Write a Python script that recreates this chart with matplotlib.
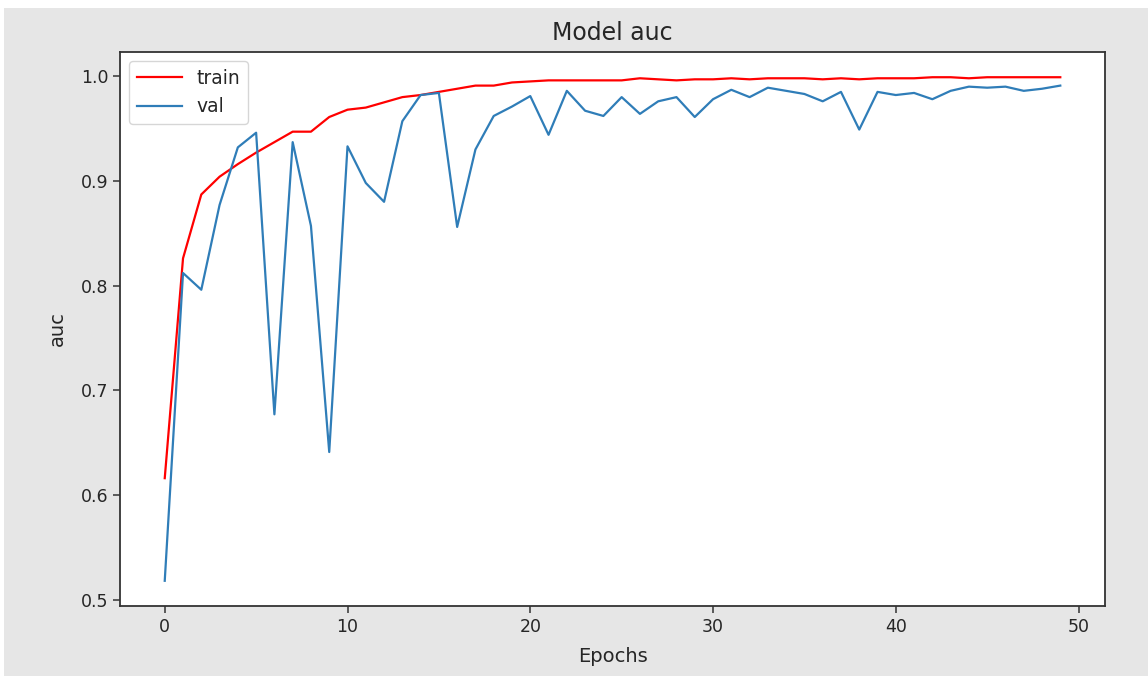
import matplotlib.pyplot as plt
from matplotlib.patches import Rectangle

# values
epochs = list(range(50))
train_auc = [0.616, 0.826, 0.887, 0.904, 0.916, 0.927, 0.937, 0.947, 0.947, 0.961,
             0.968, 0.970, 0.975, 0.980, 0.982, 0.985, 0.988, 0.991, 0.991, 0.994,
             0.995, 0.996, 0.996, 0.996, 0.996, 0.996, 0.998, 0.997, 0.996, 0.997,
             0.997, 0.998, 0.997, 0.998, 0.998, 0.998, 0.997, 0.998, 0.997, 0.998,
             0.998, 0.998, 0.999, 0.999, 0.998, 0.999, 0.999, 0.999, 0.999, 0.999]
val_auc = [0.518, 0.812, 0.796, 0.877, 0.932, 0.946, 0.677, 0.937, 0.857, 0.641,
           0.933, 0.898, 0.880, 0.957, 0.982, 0.984, 0.856, 0.930, 0.962, 0.971,
           0.981, 0.944, 0.986, 0.967, 0.962, 0.980, 0.964, 0.976, 0.980, 0.961,
           0.978, 0.987, 0.980, 0.989, 0.986, 0.983, 0.976, 0.985, 0.949, 0.985,
           0.982, 0.984, 0.978, 0.986, 0.990, 0.989, 0.990, 0.986, 0.988, 0.991]

BG = '#e6e6e6'
TXT = '#262626'

fig = plt.figure(figsize=(11.48, 6.76), dpi=100, facecolor=BG)
ax = fig.add_axes([0.1045, 0.1036, 0.8581, 0.8194])

# white frame strips at top and left of the screenshot
fig.add_artist(Rectangle((0, 1 - 8 / 676), 1, 8 / 676, transform=fig.transFigure,
                         facecolor='white', edgecolor='none', zorder=-1))
fig.add_artist(Rectangle((0, 0), 4 / 1148, 1, transform=fig.transFigure,
                         facecolor='white', edgecolor='none', zorder=-1))

ax.plot(epochs, train_auc, color='red', linewidth=1.6, label='train')
ax.plot(epochs, val_auc, color='#2f7db8', linewidth=1.6, label='val')

ax.set_title('Model auc', fontsize=17, pad=9, color=TXT)
ax.set_xlabel('Epochs', fontsize=14, labelpad=8, color=TXT)
ax.set_ylabel('auc', fontsize=14, labelpad=10, color=TXT)
ax.set_xticks([0, 10, 20, 30, 40, 50])
ax.set_yticks([0.5, 0.6, 0.7, 0.8, 0.9, 1.0])
ax.tick_params(labelsize=12.5, length=5, width=1.1, color='#333333',
               labelcolor=TXT)

for s in ax.spines.values():
    s.set_linewidth(1.3)
    s.set_color('#333333')

leg = ax.legend(loc='upper left', fontsize=13.5, handlelength=2.4)
for t in leg.get_texts():
    t.set_color(TXT)

fig.savefig('out.png', dpi=100, facecolor=BG)
